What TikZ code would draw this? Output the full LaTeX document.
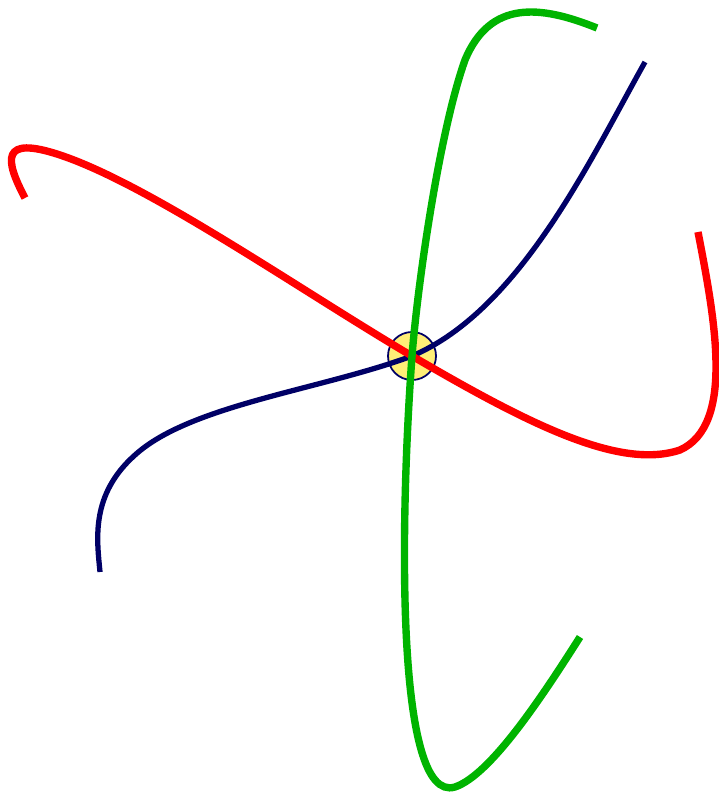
\documentclass[tikz,border=0pt]{standalone}
\usepackage{tikz}
\definecolor{rouge}{HTML}{FF0000}
\definecolor{vert}{HTML}{00B400}
\definecolor{marine}{HTML}{000066}
\definecolor{jaune}{HTML}{FFEE77}
\tikzset{
  pivot/.style={circle,draw=marine,fill=jaune,line width=0.5pt,minimum size=0.48cm,inner sep=0pt},
  courbe/.style={line width=2.1pt},
}
\begin{document}
\begin{tikzpicture}[x=0.01cm,y=0.01cm]
  \useasboundingbox (0,0) rectangle (718,-794);
  \node[pivot] (o) at (412,-356) {};
  \coordinate (r1) at (25,-198);
  \coordinate (r2) at (698,-232);
  \coordinate (v1) at (597,-28);
  \coordinate (v2) at (580,-637);
  \coordinate (m1) at (645,-62);
  \coordinate (m2) at (100,-572);
  % bleu marine
  \draw[courbe,marine,line width=1.5pt] (m1) .. controls (590,-160) and (520,-310) .. (o.center)
    .. controls (320,-390) and (190,-405) .. (135,-455) .. controls (90,-495) and (97,-540) .. (m2);
  % rouge
  \draw[courbe,rouge] (r1) .. controls (5,-160) and (0,-135) .. (60,-155)
    .. controls (150,-185) and (300,-290) .. (o.center)
    .. controls (530,-425) and (620,-470) .. (680,-450) .. controls (735,-425) and (715,-320) .. (r2);
  % vert
  \draw[courbe,vert] (v1) .. controls (540,-5) and (490,0) .. (465,-60)
    .. controls (440,-130) and (418,-280) .. (o.center)
    .. controls (400,-520) and (395,-805) .. (455,-787) .. controls (490,-775) and (540,-700) .. (v2);
\end{tikzpicture}
\end{document}
